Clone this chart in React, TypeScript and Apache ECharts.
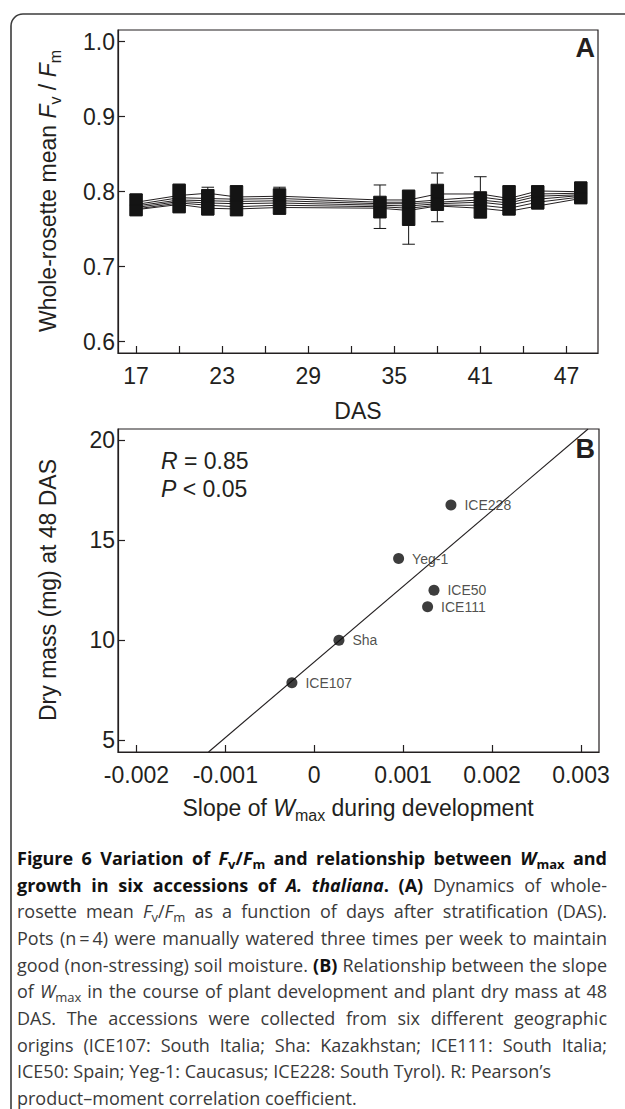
import React, { useEffect, useRef } from 'react';
import * as echarts from 'echarts';

const PLOT_FONT = '"Liberation Sans", Arial, Helvetica, sans-serif';
const CAP_FONT = '"Open Sans", "Noto Sans", sans-serif';
const INK = '#231f20';

// ---------- Panel A data ----------
const DAS_DAYS = [17, 20, 22, 24, 27, 34, 36, 38, 41, 43, 45, 48];
const BOX_LOW = [0.768, 0.772, 0.769, 0.768, 0.770, 0.751, 0.730, 0.760, 0.765, 0.769, 0.777, 0.784];
const BOX_Q1 = [0.768, 0.772, 0.769, 0.768, 0.770, 0.765, 0.755, 0.775, 0.765, 0.769, 0.777, 0.784];
const BOX_MED = [0.782, 0.790, 0.786, 0.788, 0.787, 0.780, 0.778, 0.792, 0.782, 0.790, 0.793, 0.798];
const BOX_Q3 = [0.797, 0.810, 0.803, 0.808, 0.804, 0.794, 0.802, 0.810, 0.800, 0.808, 0.808, 0.813];
const BOX_HIGH = [0.797, 0.810, 0.806, 0.808, 0.806, 0.809, 0.802, 0.825, 0.820, 0.808, 0.808, 0.813];
const ACC_1 = [0.786, 0.795, 0.798, 0.793, 0.794, 0.789, 0.789, 0.797, 0.797, 0.791, 0.801, 0.800];
const ACC_2 = [0.783, 0.792, 0.791, 0.790, 0.791, 0.786, 0.786, 0.789, 0.793, 0.788, 0.797, 0.798];
const ACC_3 = [0.781, 0.789, 0.788, 0.787, 0.788, 0.784, 0.784, 0.786, 0.789, 0.785, 0.794, 0.796];
const ACC_4 = [0.779, 0.787, 0.785, 0.784, 0.785, 0.782, 0.781, 0.784, 0.786, 0.782, 0.790, 0.795];
const ACC_5 = [0.777, 0.785, 0.782, 0.780, 0.782, 0.780, 0.778, 0.782, 0.782, 0.778, 0.786, 0.793];
const ACC_6 = [0.776, 0.783, 0.778, 0.777, 0.779, 0.778, 0.775, 0.781, 0.778, 0.774, 0.781, 0.791];
const A_X_TICKS = [17, 20, 23, 26, 29, 32, 35, 38, 41, 44, 47];
const A_X_LABELS = [17, 23, 29, 35, 41, 47];
const A_Y_TICKS = [0.6, 0.7, 0.8, 0.9, 1.0];

// ---------- Panel B data ----------
const ACCESSIONS = ['ICE107', 'Sha', 'ICE111', 'ICE50', 'Yeg-1', 'ICE228'];
const SLOPE_WMAX = [-0.000251, 0.000278, 0.001275, 0.001347, 0.000949, 0.001538];
const DRY_MASS = [7.88, 10.0, 11.67, 12.5, 14.08, 16.75];
const B_X_TICKS = [-0.002, -0.001, 0, 0.001, 0.002, 0.003];
const B_Y_TICKS = [5, 10, 15, 20];

// ---------- Caption (style, text) ----------
type Seg = [string, string];
const CAPTION_LINES: Seg[][] = [
  [['b', 'Figure 6 Variation of '], ['bi', 'F'], ['bs', 'v'], ['b', '/'], ['bi', 'F'], ['bs', 'm'], ['b', ' and relationship between '], ['bi', 'W'], ['bs', 'max'], ['b', ' and']],
  [['b', 'growth in six accessions of '], ['bi', 'A. thaliana'], ['b', '. (A)'], ['n', ' Dynamics of whole-']],
  [['n', 'rosette mean '], ['i', 'F'], ['s', 'v'], ['n', '/'], ['i', 'F'], ['s', 'm'], ['n', ' as a function of days after stratification (DAS).']],
  [['n', 'Pots (n\u2009=\u20094) were manually watered three times per week to maintain']],
  [['n', 'good (non-stressing) soil moisture. '], ['b', '(B)'], ['n', ' Relationship between the slope']],
  [['n', 'of '], ['i', 'W'], ['s', 'max'], ['n', ' in the course of plant development and plant dry mass at 48']],
  [['n', 'DAS. The accessions were collected from six different geographic']],
  [['n', 'origins (ICE107: South Italia; Sha: Kazakhstan; ICE111: South Italia;']],
  [['n', 'ICE50: Spain; Yeg-1: Caucasus; ICE228: South Tyrol). R: Pearson\u2019s']],
  [['n', 'product\u2013moment correlation coefficient.']],
];
const CAPTION_JUSTIFY = [true, true, true, true, true, true, true, true, false, false];

// axis extents (layout of the original frame)
const A_X_MIN = 15.74;
const A_X_MAX = 49.2;
const A_Y_MIN = 0.585;
const A_Y_MAX = 1.0156;
const B_X_MIN = -0.002207;
const B_X_MAX = 0.003203;
const B_Y_MIN = 4.42;
const B_Y_MAX = 20.55;

const CAP_LEFT = 17;
const CAP_RIGHT = 607;
const CAP_TOP = 858;
const CAP_STEP = 26.65;

function regression(xs: number[], ys: number[]) {
  const n = xs.length;
  const mx = xs.reduce((a, b) => a + b, 0) / n;
  const my = ys.reduce((a, b) => a + b, 0) / n;
  let sxy = 0;
  let sxx = 0;
  for (let i = 0; i < n; i++) {
    sxy += (xs[i] - mx) * (ys[i] - my);
    sxx += (xs[i] - mx) * (xs[i] - mx);
  }
  const slope = sxy / sxx;
  return { slope, icpt: my - slope * mx };
}

const plotRich: any = {
  n: { fontSize: 23, fontFamily: PLOT_FONT, fill: INK, lineHeight: 30 },
  i: { fontSize: 23, fontFamily: PLOT_FONT, fontStyle: 'italic', fill: INK, lineHeight: 30 },
  s: { fontSize: 16, fontFamily: PLOT_FONT, fill: INK, lineHeight: 16, verticalAlign: 'bottom' },
};

const CAP_SIZE = 18;
const CAP_SUB = 13;
const CAP_GREY = '#3a3a3a';
const CAP_BLACK = '#111111';
const capRich: any = {
  n: { fontSize: CAP_SIZE, fontFamily: CAP_FONT, fill: CAP_GREY, lineHeight: 24 },
  i: { fontSize: CAP_SIZE, fontFamily: CAP_FONT, fontStyle: 'italic', fill: CAP_GREY, lineHeight: 24 },
  s: { fontSize: CAP_SUB, fontFamily: CAP_FONT, fill: CAP_GREY, lineHeight: 13, verticalAlign: 'bottom' },
  b: { fontSize: CAP_SIZE, fontFamily: CAP_FONT, fontWeight: 'bold', fill: CAP_BLACK, lineHeight: 24 },
  bi: { fontSize: CAP_SIZE, fontFamily: CAP_FONT, fontWeight: 'bold', fontStyle: 'italic', fill: CAP_BLACK, lineHeight: 24 },
  bs: { fontSize: CAP_SUB, fontFamily: CAP_FONT, fontWeight: 'bold', fill: CAP_BLACK, lineHeight: 13, verticalAlign: 'bottom' },
};

function axisCommon(extra: any) {
  return {
    type: 'value',
    axisLine: { show: true, onZero: false, lineStyle: { color: INK, width: 1.2 } },
    splitLine: { show: false },
    ...extra,
  };
}

function buildCaption(): any[] {
  const canvas = document.createElement('canvas');
  const ctx = canvas.getContext('2d') as CanvasRenderingContext2D;
  const measure = (st: string, t: string) => {
    const r = capRich[st];
    ctx.font = `${r.fontStyle || 'normal'} ${r.fontWeight || 'normal'} ${r.fontSize}px ${r.fontFamily}`;
    return ctx.measureText(t).width;
  };
  const out: any[] = [];
  CAPTION_LINES.forEach((segs, k) => {
    const y = CAP_TOP + CAP_STEP * k;
    if (!CAPTION_JUSTIFY[k]) {
      out.push({
        type: 'text', x: CAP_LEFT, y,
        style: { text: segs.map(([s, t]) => `{${s}|${t}}`).join(''), rich: capRich, align: 'left', verticalAlign: 'middle' },
      });
      return;
    }
    // split into words
    const words: Seg[][] = [];
    let cur: Seg[] = [];
    segs.forEach(([s, t]) => {
      const parts = t.split(' ');
      parts.forEach((p, pi) => {
        if (pi > 0) {
          if (cur.length) words.push(cur);
          cur = [];
        }
        if (p.length) cur.push([s, p]);
      });
    });
    if (cur.length) words.push(cur);
    const widths = words.map((w) => w.reduce((a, [s, t]) => a + measure(s, t), 0));
    const total = widths.reduce((a, b) => a + b, 0);
    const gap = (CAP_RIGHT - CAP_LEFT - total) / Math.max(1, words.length - 1);
    let x = CAP_LEFT;
    words.forEach((w, wi) => {
      out.push({
        type: 'text', x, y,
        style: { text: w.map(([s, t]) => `{${s}|${t}}`).join(''), rich: capRich, align: 'left', verticalAlign: 'middle' },
      });
      x += widths[wi] + gap;
    });
  });
  return out;
}

export default function App() {
  const ref = useRef<HTMLDivElement>(null);

  useEffect(() => {
    document.body.style.margin = '0';
    if (!ref.current) return;
    const chart = echarts.init(ref.current, undefined, { renderer: 'svg' });

    const accLines = [ACC_1, ACC_2, ACC_3, ACC_4, ACC_5, ACC_6];
    const { slope, icpt } = regression(SLOPE_WMAX, DRY_MASS);
    const fx0 = Math.max(B_X_MIN, (B_Y_MIN - icpt) / slope);
    const fx1 = Math.min(B_X_MAX, (B_Y_MAX - icpt) / slope);

    const tickLabelStyle = { fontSize: 23, fontFamily: PLOT_FONT, color: INK };
    const tickStyle = { show: true, inside: true, length: 7, lineStyle: { color: INK, width: 1.2 } };

    const graphics: any[] = [
      {
        type: 'rect',
        silent: true,
        shape: { x: 11, y: 14, width: 720, height: 1200, r: 12 },
        style: { fill: 'none', stroke: '#3c3c3c', lineWidth: 1.6 },
      },
      {
        type: 'text', x: 595, y: 48,
        style: { text: 'A', fontSize: 27, fontWeight: 'bold', fontFamily: PLOT_FONT, fill: INK, align: 'right', verticalAlign: 'middle' },
      },
      {
        type: 'text', x: 595, y: 449,
        style: { text: 'B', fontSize: 27, fontWeight: 'bold', fontFamily: PLOT_FONT, fill: INK, align: 'right', verticalAlign: 'middle' },
      },
      {
        type: 'text', x: 358, y: 411,
        style: { text: 'DAS', fontSize: 23, fontFamily: PLOT_FONT, fill: INK, align: 'center', verticalAlign: 'middle' },
      },
      {
        type: 'text', x: 48, y: 191, rotation: Math.PI / 2,
        style: { text: '{n|Whole-rosette mean }{i|F}{s|v}{n| / }{i|F}{s|m}', rich: plotRich, align: 'center', verticalAlign: 'middle' },
      },
      {
        type: 'text', x: 48, y: 590, rotation: Math.PI / 2,
        style: { text: '{n|Dry mass (mg) at 48 DAS}', rich: plotRich, align: 'center', verticalAlign: 'middle' },
      },
      {
        type: 'text', x: 358, y: 808,
        style: { text: '{n|Slope of }{i|W}{s|max}{n| during development}', rich: plotRich, align: 'center', verticalAlign: 'middle' },
      },
      {
        type: 'text', x: 161, y: 461,
        style: { text: '{i|R}{n| = 0.85}', rich: plotRich, align: 'left', verticalAlign: 'middle' },
      },
      {
        type: 'text', x: 161, y: 489,
        style: { text: '{i|P}{n| < 0.05}', rich: plotRich, align: 'left', verticalAlign: 'middle' },
      },
      ...buildCaption(),
    ];

    const option: any = {
      animation: false,
      backgroundColor: '#ffffff',
      grid: [
        { left: 118, top: 30, width: 480, height: 323, show: true, borderColor: INK, borderWidth: 1.2, backgroundColor: 'transparent' },
        { left: 118, top: 429, width: 481, height: 323, show: true, borderColor: INK, borderWidth: 1.2, backgroundColor: 'transparent' },
      ],
      xAxis: [
        axisCommon({
          gridIndex: 0, min: A_X_MIN, max: A_X_MAX,
          axisTick: { ...tickStyle, customValues: A_X_TICKS },
          axisLabel: { ...tickLabelStyle, customValues: A_X_LABELS, margin: 11 },
        }),
        axisCommon({
          gridIndex: 1, min: B_X_MIN, max: B_X_MAX,
          axisTick: { ...tickStyle, customValues: B_X_TICKS },
          axisLabel: {
            ...tickLabelStyle, customValues: B_X_TICKS, margin: 11,
            formatter: (v: number) => (Math.abs(v) < 1e-12 ? '0' : v.toFixed(3)),
          },
        }),
      ],
      yAxis: [
        axisCommon({
          gridIndex: 0, min: A_Y_MIN, max: A_Y_MAX,
          axisTick: { ...tickStyle, customValues: A_Y_TICKS },
          axisLabel: { ...tickLabelStyle, customValues: A_Y_TICKS, margin: 3, formatter: (v: number) => v.toFixed(1) },
        }),
        axisCommon({
          gridIndex: 1, min: B_Y_MIN, max: B_Y_MAX,
          axisTick: { ...tickStyle, customValues: B_Y_TICKS },
          axisLabel: { ...tickLabelStyle, customValues: B_Y_TICKS, margin: 3 },
        }),
      ],
      series: [
        ...accLines.map((vals, k) => ({
          type: 'line',
          name: 'acc' + (k + 1),
          xAxisIndex: 0, yAxisIndex: 0,
          data: DAS_DAYS.map((d, i) => [d, vals[i]]),
          symbol: 'none',
          lineStyle: { color: INK, width: 1 },
          z: 1,
          silent: true,
        })),
        {
          type: 'boxplot',
          xAxisIndex: 0, yAxisIndex: 0,
          boxWidth: [12.5, 12.5],
          data: DAS_DAYS.map((d, i) => [d, BOX_LOW[i], BOX_Q1[i], BOX_MED[i], BOX_Q3[i], BOX_HIGH[i]]),
          itemStyle: { color: '#141414', borderColor: '#141414', borderWidth: 1 },
          z: 3,
          silent: true,
        },
        {
          type: 'line',
          xAxisIndex: 1, yAxisIndex: 1,
          data: [[fx0, icpt + slope * fx0], [fx1, icpt + slope * fx1]],
          symbol: 'none',
          lineStyle: { color: INK, width: 1.1 },
          clip: true,
          silent: true,
        },
        {
          type: 'scatter',
          xAxisIndex: 1, yAxisIndex: 1,
          data: ACCESSIONS.map((name, i) => ({ name, value: [SLOPE_WMAX[i], DRY_MASS[i]] })),
          symbol: 'circle',
          symbolSize: 11,
          itemStyle: { color: '#0d0d0d' },
          label: {
            show: true, position: 'right', distance: 8, formatter: '{b}',
            fontSize: 14, fontFamily: PLOT_FONT, color: INK,
          },
          z: 4,
          silent: true,
        },
      ],
      graphic: graphics,
    };

    chart.setOption(option);
    return () => chart.dispose();
  }, []);

  return <div ref={ref} style={{ width: 625, height: 1109 }} />;
}
